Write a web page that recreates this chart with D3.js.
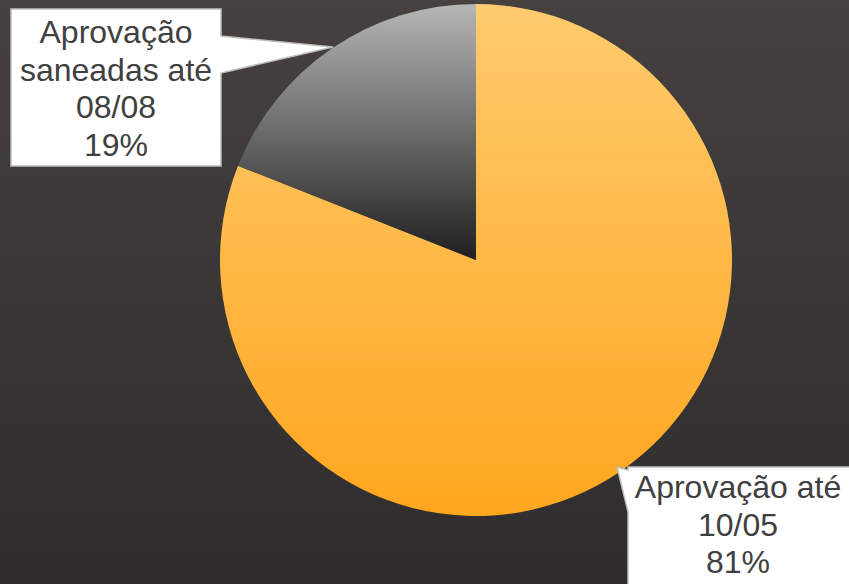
<!DOCTYPE html>
<html>
<head>
<meta charset="utf-8">
<script src="https://cdn.jsdelivr.net/npm/d3@7"></script>
<style>
  html, body { margin: 0; padding: 0; background: #3b3839; }
  svg { display: block; }
</style>
</head>
<body>
<div id="chart"></div>
<script>
var categories = ["Aprovação até 10/05", "Aprovação saneadas até 08/08"];
var values = [81, 19];
var label_lines = [["Aprovação até", "10/05", "81%"], ["Aprovação", "saneadas até", "08/08", "19%"]];

var width = 849, height = 584;
var cx = 476, cy = 260, radius = 256;

var svg = d3.select("#chart").append("svg")
	.attr("width", width)
	.attr("height", height);

var defs = svg.append("defs");

// background gradient
var bg = defs.append("linearGradient").attr("id", "bg_grad")
	.attr("x1", 0).attr("y1", 0).attr("x2", 0).attr("y2", 1);
bg.append("stop").attr("offset", "0%").attr("stop-color", "#46413f");
bg.append("stop").attr("offset", "100%").attr("stop-color", "#2e2c2d");

var grad_colors = [["#ffcb6e", "#ffa61e"], ["#b6b6b6", "#1f1f1f"]];
grad_colors.forEach(function(c, i) {
	var g = defs.append("linearGradient").attr("id", "slice_grad" + i)
		.attr("x1", 0).attr("y1", 0).attr("x2", 0).attr("y2", 1);
	g.append("stop").attr("offset", "0%").attr("stop-color", c[0]);
	g.append("stop").attr("offset", "100%").attr("stop-color", c[1]);
});

svg.append("rect")
	.attr("width", width).attr("height", height)
	.attr("fill", "url(#bg_grad)");

var pie = d3.pie().sort(null).value(function(d) { return d; });
var arc = d3.arc().innerRadius(0).outerRadius(radius);
var arcs = pie(values);

svg.append("g")
	.attr("transform", "translate(" + cx + "," + cy + ")")
	.selectAll("path")
	.data(arcs)
	.enter().append("path")
	.attr("d", arc)
	.attr("fill", function(d, i) { return "url(#slice_grad" + i + ")"; });

// callout boxes (box rect + pointer tip)
var callouts = [
	{ box: [628, 467, 240, 130], tip: [617, 467], base: [[628, 470], [628, 512]], tx: 738, ty: 498 },
	{ box: [11, 9, 210, 157], tip: [333, 47], base: [[221, 36], [221, 73]], tx: 116, ty: 43 }
];

callouts.forEach(function(c, i) {
	var x0 = c.box[0], y0 = c.box[1], x1 = c.box[0] + c.box[2], y1 = c.box[1] + c.box[3];
	var pts;
	if (i == 0) {
		pts = [[x0, y0], [x1, y0], [x1, y1], [x0, y1], c.base[1], c.tip, c.base[0]];
	} else {
		pts = [[x0, y0], [x1, y0], c.base[0], c.tip, c.base[1], [x1, y1], [x0, y1]];
	}
	svg.append("path")
		.attr("d", d3.line()(pts) + "Z")
		.attr("fill", "#ffffff")
		.attr("stroke", "#bdbdbd")
		.attr("stroke-width", 1.5);

	var t = svg.append("text")
		.attr("x", c.tx).attr("y", c.ty)
		.attr("text-anchor", "middle")
		.attr("font-family", "'Liberation Sans', Arial, sans-serif")
		.attr("font-size", 32)
		.attr("fill", "#404040");
	label_lines[i].forEach(function(line, j) {
		t.append("tspan").attr("x", c.tx).attr("dy", j == 0 ? 0 : 37.5).text(line);
	});
});
</script>
</body>
</html>
